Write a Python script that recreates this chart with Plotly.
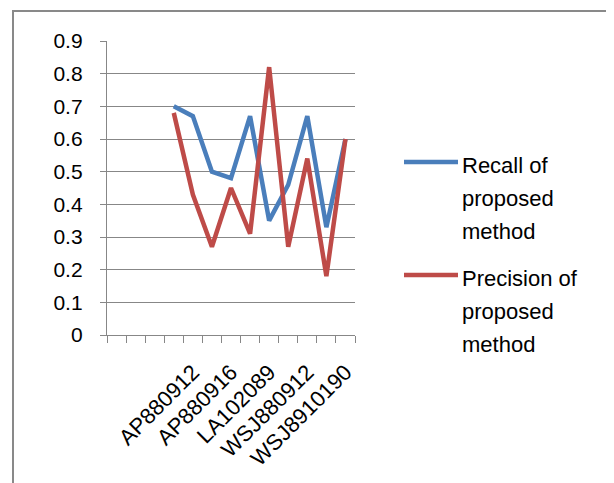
import plotly.graph_objects as go

# ---- data ----
n_categories = 13
data_positions = [4, 5, 6, 7, 8, 9, 10, 11, 12, 13]
recall = [0.70, 0.67, 0.50, 0.48, 0.67, 0.35, 0.46, 0.67, 0.33, 0.60]
precision = [0.68, 0.43, 0.27, 0.45, 0.31, 0.82, 0.27, 0.54, 0.18, 0.60]
label_positions = [5, 7, 9, 11, 13]
tick_labels = ["AP880912", "AP880916", "LA102089", "WSJ880912", "WSJ8910190"]
series_names = ["Recall of proposed method", "Precision of proposed method"]
y_ticks = [0, 0.1, 0.2, 0.3, 0.4, 0.5, 0.6, 0.7, 0.8, 0.9]

colors = ["#4A7EBB", "#BE4B48"]
FONT = "Liberation Sans"
W, H = 614, 483
OFF = 8  # page body margin
# plot area in page pixels: x 107..355, y 41..335
L = 107 - OFF
T = 41 - OFF
R = W - (355 - OFF)
B = H - (335 - OFF)
PW, PH = W - L - R, H - T - B


def px_x(px):
    return (px - OFF - L) / PW


def px_y(py):
    return (H - B - (py - OFF)) / PH


fig = go.Figure()
for vals, name, col in zip([recall, precision], series_names, colors):
    fig.add_trace(go.Scatter(x=data_positions, y=vals, mode="lines", name=name,
                             line=dict(color=col, width=4.5), showlegend=False))

# dummy trace on label axis
fig.add_trace(go.Scatter(x=label_positions, y=[None] * len(label_positions), xaxis="x2",
                         showlegend=False, hoverinfo="skip"))

grid = "#878787"
boundaries = [i + 0.5 for i in range(n_categories + 1)]
fig.update_layout(
    width=W, height=H,
    margin=dict(l=L, r=R, t=T, b=B),
    paper_bgcolor="white", plot_bgcolor="white",
    font=dict(family=FONT, size=21, color="black"),
    xaxis=dict(range=[0.5, n_categories + 0.5], tickmode="array", tickvals=boundaries,
               ticktext=[""] * len(boundaries), ticks="outside", ticklen=7, tickcolor=grid,
               tickwidth=1.3, showline=True, linecolor=grid, linewidth=1.3,
               showgrid=False, zeroline=False),
    xaxis2=dict(range=[0.5, n_categories + 0.5], overlaying="x", anchor="y", side="bottom",
                tickmode="array", tickvals=label_positions, ticktext=tick_labels,
                tickangle=-45, ticks="", showline=False, showgrid=False, zeroline=False,
                tickfont=dict(size=22), ticklabelstandoff=19),
    yaxis=dict(range=[0, 0.9], tickmode="array", tickvals=y_ticks,
               ticktext=[("%g" % v) for v in y_ticks], ticks="outside", ticklen=6,
               tickcolor=grid, tickwidth=1.3, showline=True, linecolor=grid, linewidth=1.3,
               showgrid=True, gridcolor=grid, gridwidth=1.3, zeroline=False,
               tickfont=dict(size=21), ticklabelstandoff=13),
    showlegend=False,
)

shapes = []
# outer chart border (left and top visible)
shapes.append(dict(type="rect", xref="paper", yref="paper",
                   x0=px_x(13), x1=px_x(660), y0=px_y(540), y1=px_y(11),
                   line=dict(color="#898989", width=2), fillcolor="rgba(0,0,0,0)", layer="below"))

annotations = []
legend_y = [162, 275]
for name, col, ly in zip(series_names, colors, legend_y):
    shapes.append(dict(type="line", xref="paper", yref="paper",
                       x0=px_x(404), x1=px_x(458), y0=px_y(ly), y1=px_y(ly),
                       line=dict(color=col, width=4.5)))
    words = name.split(" ")
    lines = [" ".join(words[:-2]), words[-2], words[-1]]
    for i, t in enumerate(lines):
        annotations.append(dict(text=t, xref="paper", yref="paper", x=px_x(460),
                                y=px_y(ly + 3 + 33 * i), xanchor="left", yanchor="middle",
                                showarrow=False, font=dict(size=22, family=FONT, color="black")))

fig.update_layout(shapes=shapes, annotations=annotations)
fig.write_html("out.html")
